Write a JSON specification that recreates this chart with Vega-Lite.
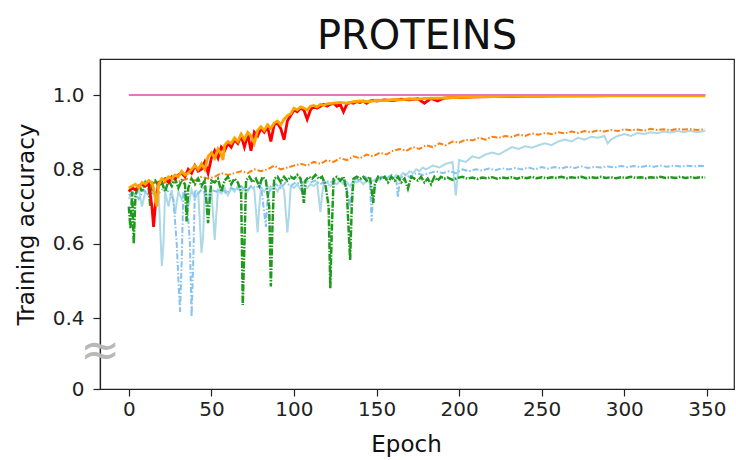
{
  "$schema": "https://vega.github.io/schema/vega-lite/v6.json",
  "autosize": {"type": "none"},
  "width": 634,
  "height": 330,
  "padding": {"left": 100, "top": 59, "right": 2, "bottom": 71},
  "background": "white",
  "config": {
    "font": "DejaVu Sans",
    "view": {"stroke": "#222", "strokeWidth": 1.2},
    "axis": {"grid": false, "domainColor": "#222", "domainWidth": 1.2, "tickColor": "#222", "tickWidth": 1.2, "tickSize": 7, "labelFont": "DejaVu Sans", "labelFontSize": 20, "labelColor": "#222", "titleFont": "DejaVu Sans", "titleFontSize": 23, "titleFontWeight": "normal", "titleColor": "#111"}
  },
  "title": {"text": "PROTEINS", "fontSize": 40, "font": "DejaVu Sans", "fontWeight": "normal", "color": "#111", "anchor": "middle", "baseline": "bottom", "offset": 4, "dy": 42},
  "datasets": {
    "pink": [{"e":0,"v":1.0},{"e":349,"v":1.0}],
    "lightblue": [{"e":0,"v":0.72},{"e":2,"v":0.74},{"e":4,"v":0.73},{"e":6,"v":0.745},{"e":8,"v":0.70},{"e":10,"v":0.74},{"e":12,"v":0.73},{"e":14,"v":0.745},{"e":16,"v":0.72},{"e":18,"v":0.74},{"e":20,"v":0.54},{"e":21,"v":0.60},{"e":22,"v":0.74},{"e":24,"v":0.70},{"e":26,"v":0.745},{"e":28,"v":0.68},{"e":30,"v":0.74},{"e":32,"v":0.72},{"e":34,"v":0.74},{"e":36,"v":0.70},{"e":38,"v":0.745},{"e":40,"v":0.72},{"e":42,"v":0.74},{"e":44,"v":0.575},{"e":45,"v":0.62},{"e":46,"v":0.74},{"e":48,"v":0.73},{"e":50,"v":0.745},{"e":52,"v":0.61},{"e":53,"v":0.68},{"e":54,"v":0.745},{"e":56,"v":0.735},{"e":58,"v":0.75},{"e":60,"v":0.73},{"e":62,"v":0.75},{"e":64,"v":0.74},{"e":66,"v":0.755},{"e":68,"v":0.735},{"e":70,"v":0.75},{"e":72,"v":0.74},{"e":74,"v":0.755},{"e":76,"v":0.745},{"e":78,"v":0.63},{"e":79,"v":0.70},{"e":80,"v":0.75},{"e":82,"v":0.74},{"e":84,"v":0.755},{"e":86,"v":0.745},{"e":88,"v":0.755},{"e":90,"v":0.74},{"e":92,"v":0.76},{"e":94,"v":0.745},{"e":96,"v":0.63},{"e":97,"v":0.68},{"e":98,"v":0.755},{"e":100,"v":0.75},{"e":102,"v":0.76},{"e":104,"v":0.745},{"e":106,"v":0.76},{"e":108,"v":0.75},{"e":110,"v":0.76},{"e":112,"v":0.755},{"e":114,"v":0.765},{"e":116,"v":0.685},{"e":117,"v":0.73},{"e":118,"v":0.76},{"e":120,"v":0.765},{"e":122,"v":0.755},{"e":124,"v":0.765},{"e":126,"v":0.76},{"e":128,"v":0.77},{"e":130,"v":0.76},{"e":132,"v":0.765},{"e":134,"v":0.755},{"e":136,"v":0.77},{"e":138,"v":0.765},{"e":140,"v":0.77},{"e":142,"v":0.76},{"e":144,"v":0.77},{"e":146,"v":0.765},{"e":148,"v":0.77},{"e":150,"v":0.775},{"e":152,"v":0.77},{"e":154,"v":0.78},{"e":156,"v":0.775},{"e":158,"v":0.78},{"e":160,"v":0.775},{"e":162,"v":0.785},{"e":164,"v":0.78},{"e":166,"v":0.79},{"e":168,"v":0.785},{"e":170,"v":0.795},{"e":172,"v":0.79},{"e":174,"v":0.80},{"e":176,"v":0.795},{"e":178,"v":0.805},{"e":180,"v":0.80},{"e":184,"v":0.81},{"e":188,"v":0.805},{"e":192,"v":0.815},{"e":196,"v":0.82},{"e":198,"v":0.73},{"e":200,"v":0.825},{"e":204,"v":0.82},{"e":208,"v":0.835},{"e":212,"v":0.83},{"e":216,"v":0.84},{"e":220,"v":0.845},{"e":224,"v":0.84},{"e":228,"v":0.85},{"e":232,"v":0.86},{"e":236,"v":0.855},{"e":240,"v":0.862},{"e":244,"v":0.858},{"e":248,"v":0.865},{"e":252,"v":0.87},{"e":256,"v":0.865},{"e":260,"v":0.875},{"e":264,"v":0.88},{"e":268,"v":0.875},{"e":272,"v":0.885},{"e":276,"v":0.88},{"e":280,"v":0.888},{"e":284,"v":0.885},{"e":288,"v":0.89},{"e":290,"v":0.87},{"e":292,"v":0.88},{"e":296,"v":0.89},{"e":300,"v":0.895},{"e":304,"v":0.89},{"e":308,"v":0.898},{"e":312,"v":0.895},{"e":316,"v":0.9},{"e":320,"v":0.897},{"e":324,"v":0.902},{"e":328,"v":0.899},{"e":332,"v":0.903},{"e":336,"v":0.9},{"e":340,"v":0.904},{"e":344,"v":0.9},{"e":349,"v":0.903}],
    "skyblue": [{"e":0,"v":0.73},{"e":3,"v":0.74},{"e":6,"v":0.72},{"e":9,"v":0.745},{"e":12,"v":0.73},{"e":15,"v":0.75},{"e":18,"v":0.735},{"e":21,"v":0.75},{"e":24,"v":0.74},{"e":27,"v":0.72},{"e":29,"v":0.60},{"e":31,"v":0.416},{"e":32,"v":0.55},{"e":33,"v":0.74},{"e":35,"v":0.73},{"e":37,"v":0.60},{"e":38,"v":0.403},{"e":39,"v":0.55},{"e":40,"v":0.745},{"e":42,"v":0.735},{"e":45,"v":0.75},{"e":48,"v":0.70},{"e":50,"v":0.745},{"e":53,"v":0.74},{"e":56,"v":0.75},{"e":59,"v":0.735},{"e":62,"v":0.75},{"e":65,"v":0.745},{"e":68,"v":0.755},{"e":71,"v":0.74},{"e":74,"v":0.755},{"e":77,"v":0.75},{"e":80,"v":0.76},{"e":83,"v":0.645},{"e":84,"v":0.72},{"e":86,"v":0.755},{"e":89,"v":0.76},{"e":92,"v":0.75},{"e":95,"v":0.765},{"e":98,"v":0.755},{"e":101,"v":0.765},{"e":104,"v":0.76},{"e":107,"v":0.77},{"e":110,"v":0.765},{"e":113,"v":0.77},{"e":116,"v":0.76},{"e":119,"v":0.77},{"e":122,"v":0.765},{"e":125,"v":0.77},{"e":128,"v":0.775},{"e":131,"v":0.77},{"e":134,"v":0.70},{"e":135,"v":0.74},{"e":137,"v":0.775},{"e":140,"v":0.77},{"e":143,"v":0.78},{"e":146,"v":0.77},{"e":147,"v":0.66},{"e":148,"v":0.74},{"e":150,"v":0.775},{"e":153,"v":0.78},{"e":156,"v":0.775},{"e":159,"v":0.785},{"e":162,"v":0.77},{"e":163,"v":0.725},{"e":164,"v":0.775},{"e":167,"v":0.785},{"e":170,"v":0.78},{"e":174,"v":0.79},{"e":178,"v":0.785},{"e":182,"v":0.79},{"e":186,"v":0.795},{"e":190,"v":0.79},{"e":194,"v":0.795},{"e":198,"v":0.79},{"e":202,"v":0.80},{"e":206,"v":0.795},{"e":210,"v":0.80},{"e":214,"v":0.797},{"e":218,"v":0.802},{"e":222,"v":0.798},{"e":226,"v":0.803},{"e":230,"v":0.80},{"e":234,"v":0.804},{"e":238,"v":0.80},{"e":242,"v":0.805},{"e":246,"v":0.80},{"e":250,"v":0.806},{"e":254,"v":0.802},{"e":258,"v":0.806},{"e":262,"v":0.803},{"e":266,"v":0.807},{"e":270,"v":0.804},{"e":274,"v":0.808},{"e":278,"v":0.804},{"e":282,"v":0.807},{"e":286,"v":0.805},{"e":290,"v":0.808},{"e":294,"v":0.805},{"e":298,"v":0.809},{"e":302,"v":0.806},{"e":306,"v":0.809},{"e":310,"v":0.806},{"e":314,"v":0.81},{"e":318,"v":0.807},{"e":322,"v":0.81},{"e":326,"v":0.807},{"e":330,"v":0.81},{"e":334,"v":0.808},{"e":338,"v":0.81},{"e":342,"v":0.808},{"e":346,"v":0.81},{"e":349,"v":0.809}],
    "orangedash": [{"e":0,"v":0.745},{"e":4,"v":0.755},{"e":8,"v":0.76},{"e":12,"v":0.755},{"e":16,"v":0.765},{"e":20,"v":0.76},{"e":24,"v":0.77},{"e":28,"v":0.765},{"e":32,"v":0.77},{"e":36,"v":0.775},{"e":40,"v":0.77},{"e":44,"v":0.78},{"e":48,"v":0.775},{"e":52,"v":0.78},{"e":56,"v":0.79},{"e":60,"v":0.785},{"e":64,"v":0.79},{"e":68,"v":0.795},{"e":72,"v":0.79},{"e":76,"v":0.80},{"e":80,"v":0.795},{"e":84,"v":0.80},{"e":88,"v":0.81},{"e":92,"v":0.80},{"e":96,"v":0.805},{"e":100,"v":0.81},{"e":104,"v":0.815},{"e":108,"v":0.81},{"e":112,"v":0.82},{"e":116,"v":0.815},{"e":120,"v":0.825},{"e":124,"v":0.82},{"e":128,"v":0.83},{"e":132,"v":0.825},{"e":136,"v":0.835},{"e":140,"v":0.83},{"e":144,"v":0.84},{"e":148,"v":0.835},{"e":152,"v":0.845},{"e":156,"v":0.84},{"e":160,"v":0.85},{"e":164,"v":0.855},{"e":168,"v":0.85},{"e":172,"v":0.86},{"e":176,"v":0.855},{"e":180,"v":0.865},{"e":184,"v":0.86},{"e":188,"v":0.87},{"e":192,"v":0.865},{"e":196,"v":0.875},{"e":200,"v":0.872},{"e":204,"v":0.88},{"e":208,"v":0.878},{"e":212,"v":0.885},{"e":216,"v":0.88},{"e":220,"v":0.888},{"e":224,"v":0.885},{"e":228,"v":0.89},{"e":232,"v":0.887},{"e":236,"v":0.894},{"e":240,"v":0.89},{"e":244,"v":0.897},{"e":248,"v":0.893},{"e":252,"v":0.898},{"e":256,"v":0.895},{"e":260,"v":0.9},{"e":264,"v":0.897},{"e":268,"v":0.902},{"e":272,"v":0.898},{"e":276,"v":0.903},{"e":280,"v":0.9},{"e":284,"v":0.905},{"e":288,"v":0.902},{"e":292,"v":0.906},{"e":296,"v":0.903},{"e":300,"v":0.908},{"e":304,"v":0.905},{"e":308,"v":0.907},{"e":312,"v":0.904},{"e":316,"v":0.909},{"e":320,"v":0.906},{"e":324,"v":0.908},{"e":328,"v":0.905},{"e":332,"v":0.909},{"e":336,"v":0.907},{"e":340,"v":0.908},{"e":344,"v":0.906},{"e":349,"v":0.908}],
    "green": [{"e":0,"v":0.70},{"e":1,"v":0.64},{"e":2,"v":0.74},{"e":3,"v":0.60},{"e":4,"v":0.73},{"e":6,"v":0.76},{"e":8,"v":0.74},{"e":10,"v":0.765},{"e":12,"v":0.75},{"e":13,"v":0.70},{"e":14,"v":0.76},{"e":16,"v":0.77},{"e":18,"v":0.755},{"e":20,"v":0.765},{"e":22,"v":0.74},{"e":24,"v":0.77},{"e":26,"v":0.755},{"e":28,"v":0.775},{"e":30,"v":0.75},{"e":32,"v":0.77},{"e":34,"v":0.76},{"e":35,"v":0.66},{"e":36,"v":0.75},{"e":38,"v":0.775},{"e":40,"v":0.76},{"e":42,"v":0.775},{"e":44,"v":0.755},{"e":46,"v":0.77},{"e":48,"v":0.655},{"e":49,"v":0.72},{"e":50,"v":0.77},{"e":52,"v":0.765},{"e":54,"v":0.775},{"e":56,"v":0.74},{"e":58,"v":0.77},{"e":60,"v":0.78},{"e":62,"v":0.76},{"e":64,"v":0.775},{"e":66,"v":0.765},{"e":68,"v":0.74},{"e":69,"v":0.435},{"e":70,"v":0.60},{"e":71,"v":0.77},{"e":73,"v":0.78},{"e":75,"v":0.765},{"e":77,"v":0.775},{"e":79,"v":0.755},{"e":81,"v":0.78},{"e":83,"v":0.77},{"e":85,"v":0.70},{"e":86,"v":0.485},{"e":87,"v":0.65},{"e":88,"v":0.775},{"e":90,"v":0.78},{"e":92,"v":0.765},{"e":94,"v":0.78},{"e":96,"v":0.77},{"e":98,"v":0.78},{"e":100,"v":0.775},{"e":102,"v":0.785},{"e":104,"v":0.775},{"e":106,"v":0.71},{"e":107,"v":0.77},{"e":109,"v":0.78},{"e":111,"v":0.775},{"e":113,"v":0.785},{"e":115,"v":0.775},{"e":117,"v":0.78},{"e":119,"v":0.76},{"e":121,"v":0.70},{"e":122,"v":0.48},{"e":123,"v":0.65},{"e":124,"v":0.775},{"e":126,"v":0.78},{"e":128,"v":0.77},{"e":130,"v":0.78},{"e":132,"v":0.74},{"e":134,"v":0.556},{"e":135,"v":0.70},{"e":136,"v":0.775},{"e":138,"v":0.78},{"e":140,"v":0.775},{"e":142,"v":0.78},{"e":144,"v":0.77},{"e":146,"v":0.78},{"e":148,"v":0.71},{"e":149,"v":0.76},{"e":151,"v":0.78},{"e":153,"v":0.775},{"e":155,"v":0.78},{"e":157,"v":0.765},{"e":159,"v":0.78},{"e":161,"v":0.77},{"e":163,"v":0.78},{"e":165,"v":0.765},{"e":167,"v":0.775},{"e":169,"v":0.748},{"e":171,"v":0.78},{"e":173,"v":0.775},{"e":175,"v":0.77},{"e":177,"v":0.78},{"e":179,"v":0.765},{"e":181,"v":0.775},{"e":183,"v":0.76},{"e":185,"v":0.78},{"e":187,"v":0.77},{"e":189,"v":0.78},{"e":191,"v":0.775},{"e":193,"v":0.778},{"e":196,"v":0.772},{"e":199,"v":0.777},{"e":202,"v":0.78},{"e":205,"v":0.775},{"e":208,"v":0.778},{"e":211,"v":0.774},{"e":214,"v":0.778},{"e":217,"v":0.776},{"e":220,"v":0.779},{"e":223,"v":0.775},{"e":226,"v":0.778},{"e":229,"v":0.776},{"e":232,"v":0.779},{"e":235,"v":0.775},{"e":238,"v":0.779},{"e":241,"v":0.776},{"e":244,"v":0.78},{"e":247,"v":0.776},{"e":250,"v":0.779},{"e":253,"v":0.776},{"e":256,"v":0.779},{"e":259,"v":0.777},{"e":262,"v":0.78},{"e":265,"v":0.776},{"e":268,"v":0.779},{"e":271,"v":0.777},{"e":274,"v":0.78},{"e":277,"v":0.776},{"e":280,"v":0.779},{"e":283,"v":0.777},{"e":286,"v":0.78},{"e":289,"v":0.777},{"e":292,"v":0.779},{"e":295,"v":0.776},{"e":298,"v":0.779},{"e":301,"v":0.777},{"e":304,"v":0.78},{"e":307,"v":0.777},{"e":310,"v":0.779},{"e":313,"v":0.776},{"e":316,"v":0.779},{"e":319,"v":0.777},{"e":322,"v":0.78},{"e":325,"v":0.777},{"e":328,"v":0.779},{"e":331,"v":0.777},{"e":334,"v":0.78},{"e":337,"v":0.777},{"e":340,"v":0.779},{"e":343,"v":0.777},{"e":346,"v":0.779},{"e":349,"v":0.778}],
    "red": [{"e":0,"v":0.74},{"e":2,"v":0.75},{"e":4,"v":0.745},{"e":6,"v":0.755},{"e":8,"v":0.76},{"e":10,"v":0.755},{"e":12,"v":0.765},{"e":14,"v":0.70},{"e":15,"v":0.645},{"e":16,"v":0.70},{"e":18,"v":0.765},{"e":20,"v":0.77},{"e":22,"v":0.775},{"e":24,"v":0.765},{"e":26,"v":0.78},{"e":28,"v":0.775},{"e":30,"v":0.785},{"e":32,"v":0.79},{"e":34,"v":0.78},{"e":36,"v":0.80},{"e":38,"v":0.79},{"e":40,"v":0.81},{"e":42,"v":0.795},{"e":44,"v":0.80},{"e":46,"v":0.82},{"e":48,"v":0.79},{"e":50,"v":0.83},{"e":52,"v":0.85},{"e":54,"v":0.83},{"e":56,"v":0.86},{"e":58,"v":0.85},{"e":60,"v":0.87},{"e":62,"v":0.86},{"e":64,"v":0.88},{"e":66,"v":0.87},{"e":68,"v":0.89},{"e":70,"v":0.86},{"e":72,"v":0.895},{"e":74,"v":0.85},{"e":76,"v":0.90},{"e":78,"v":0.89},{"e":80,"v":0.91},{"e":82,"v":0.90},{"e":84,"v":0.915},{"e":86,"v":0.875},{"e":88,"v":0.92},{"e":90,"v":0.925},{"e":92,"v":0.91},{"e":94,"v":0.88},{"e":96,"v":0.93},{"e":98,"v":0.945},{"e":100,"v":0.96},{"e":102,"v":0.955},{"e":104,"v":0.965},{"e":106,"v":0.96},{"e":108,"v":0.935},{"e":110,"v":0.96},{"e":112,"v":0.97},{"e":114,"v":0.965},{"e":116,"v":0.97},{"e":118,"v":0.975},{"e":120,"v":0.97},{"e":122,"v":0.975},{"e":124,"v":0.978},{"e":126,"v":0.97},{"e":128,"v":0.975},{"e":130,"v":0.955},{"e":132,"v":0.975},{"e":134,"v":0.98},{"e":136,"v":0.978},{"e":138,"v":0.982},{"e":140,"v":0.98},{"e":142,"v":0.984},{"e":144,"v":0.978},{"e":146,"v":0.984},{"e":148,"v":0.986},{"e":150,"v":0.984},{"e":155,"v":0.987},{"e":160,"v":0.985},{"e":165,"v":0.989},{"e":170,"v":0.987},{"e":175,"v":0.99},{"e":179,"v":0.978},{"e":183,"v":0.991},{"e":187,"v":0.984},{"e":191,"v":0.992},{"e":195,"v":0.993},{"e":200,"v":0.993},{"e":210,"v":0.995},{"e":220,"v":0.996},{"e":230,"v":0.996},{"e":240,"v":0.997},{"e":250,"v":0.997},{"e":260,"v":0.998},{"e":280,"v":0.998},{"e":300,"v":0.999},{"e":320,"v":0.999},{"e":349,"v":0.999}],
    "orange": [{"e":0,"v":0.75},{"e":2,"v":0.755},{"e":4,"v":0.76},{"e":6,"v":0.75},{"e":8,"v":0.765},{"e":10,"v":0.76},{"e":12,"v":0.77},{"e":14,"v":0.765},{"e":16,"v":0.73},{"e":17,"v":0.70},{"e":18,"v":0.76},{"e":20,"v":0.775},{"e":22,"v":0.77},{"e":24,"v":0.78},{"e":26,"v":0.775},{"e":28,"v":0.785},{"e":30,"v":0.78},{"e":32,"v":0.795},{"e":34,"v":0.785},{"e":36,"v":0.79},{"e":38,"v":0.80},{"e":40,"v":0.81},{"e":42,"v":0.80},{"e":44,"v":0.815},{"e":46,"v":0.80},{"e":48,"v":0.835},{"e":50,"v":0.845},{"e":52,"v":0.83},{"e":54,"v":0.855},{"e":56,"v":0.84},{"e":57,"v":0.825},{"e":58,"v":0.865},{"e":60,"v":0.875},{"e":62,"v":0.87},{"e":64,"v":0.885},{"e":66,"v":0.875},{"e":68,"v":0.895},{"e":70,"v":0.88},{"e":72,"v":0.90},{"e":74,"v":0.89},{"e":76,"v":0.87},{"e":78,"v":0.905},{"e":80,"v":0.915},{"e":82,"v":0.905},{"e":84,"v":0.92},{"e":86,"v":0.91},{"e":88,"v":0.925},{"e":90,"v":0.93},{"e":92,"v":0.92},{"e":94,"v":0.935},{"e":96,"v":0.945},{"e":98,"v":0.95},{"e":100,"v":0.965},{"e":102,"v":0.96},{"e":104,"v":0.968},{"e":106,"v":0.965},{"e":108,"v":0.96},{"e":110,"v":0.97},{"e":112,"v":0.972},{"e":114,"v":0.968},{"e":116,"v":0.975},{"e":118,"v":0.972},{"e":120,"v":0.976},{"e":124,"v":0.978},{"e":128,"v":0.98},{"e":132,"v":0.978},{"e":136,"v":0.982},{"e":140,"v":0.984},{"e":145,"v":0.982},{"e":150,"v":0.986},{"e":155,"v":0.985},{"e":160,"v":0.988},{"e":165,"v":0.987},{"e":170,"v":0.99},{"e":175,"v":0.989},{"e":180,"v":0.991},{"e":190,"v":0.992},{"e":200,"v":0.994},{"e":210,"v":0.995},{"e":220,"v":0.996},{"e":240,"v":0.997},{"e":260,"v":0.997},{"e":280,"v":0.998},{"e":300,"v":0.998},{"e":320,"v":0.998},{"e":349,"v":0.998}],
    "brk": [{"e":-17.45,"v":0.309,"t":"≈"}]
  },
  "encoding": {
    "x": {"field": "e", "type": "quantitative", "scale": {"domain": [-17.45, 366.45], "nice": false, "zero": false}, "axis": {"title": "Epoch", "values": [0,50,100,150,200,250,300,350], "labelPadding": 3, "titlePadding": 14, "titleX": 306}},
    "y": {"field": "v", "type": "quantitative", "scale": {"domain": [0.209, 1.097], "nice": false, "zero": false}, "axis": {"title": "Training accuracy", "values": [0.209,0.4,0.6,0.8,1.0], "labelExpr": "datum.value < 0.3 ? '0' : format(datum.value, '.1f')", "labelPadding": 9, "titlePadding": 14}}
  },
  "layer": [
    {"data": {"name": "lightblue"}, "mark": {"type": "line", "color": "#add8e6", "strokeWidth": 2, "clip": true}},
    {"data": {"name": "skyblue"}, "mark": {"type": "line", "color": "#87c3f0", "strokeWidth": 2, "strokeDash": [6, 2, 1.5, 2], "clip": true}},
    {"data": {"name": "orangedash"}, "mark": {"type": "line", "color": "#ff7f0e", "strokeWidth": 2, "strokeDash": [6, 2, 1.5, 2], "clip": true}},
    {"data": {"name": "green"}, "mark": {"type": "line", "color": "#1f9a1f", "strokeWidth": 2.5, "strokeDash": [7, 1.5, 1.5, 1.5], "clip": true}},
    {"data": {"name": "red"}, "mark": {"type": "line", "color": "#ff0000", "strokeWidth": 2.8, "clip": true}},
    {"data": {"name": "orange"}, "mark": {"type": "line", "color": "#ffa500", "strokeWidth": 2.8, "clip": true}},
    {"data": {"name": "pink"}, "mark": {"type": "line", "color": "#e377c2", "strokeWidth": 2, "clip": true}},
    {"data": {"name": "brk"}, "mark": {"type": "text", "fontSize": 48, "color": "#b8b8b8", "baseline": "middle", "align": "center"}, "encoding": {"text": {"field": "t"}}}
  ]
}
